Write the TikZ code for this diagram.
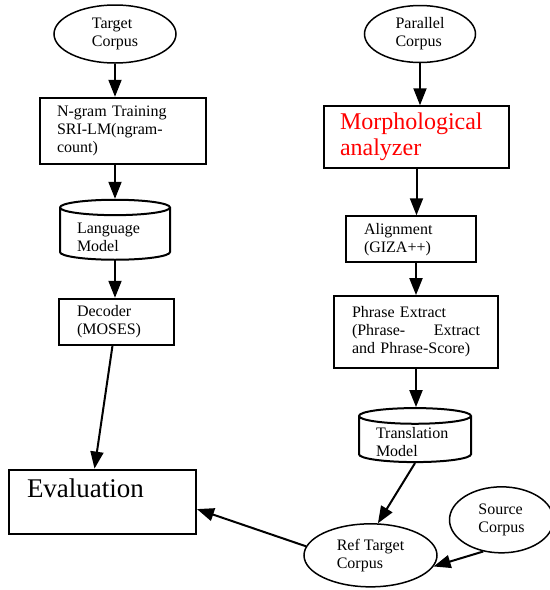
\documentclass[tikz,border=0pt]{standalone}
\usepackage{fontspec}
\setmainfont{Liberation Serif}
\usetikzlibrary{arrows.meta,positioning,shapes.geometric}

\begin{document}
\begin{tikzpicture}[
    >={Triangle[length=8.5pt,width=6.5pt]},
    node distance=17pt,
    line width=1pt,
    corpus/.style={ellipse,draw,line width=0.75pt,align=left,inner sep=0pt,font=\fontsize{8}{9}\selectfont},
    procbox/.style={rectangle,draw,align=left,font=\fontsize{8}{9}\selectfont},
    store/.style={cylinder,shape border rotate=90,aspect=0.14,inner ysep=1pt,draw,align=left,font=\fontsize{8}{9}\selectfont},
    flow/.style={->,line width=1pt}
]
    \useasboundingbox (0,0) rectangle (275pt,-295pt);

    % left column
    \node[corpus,minimum width=61pt,minimum height=29pt] (tc) at (57.5pt,-17pt) {Target\\Corpus};
    \node[procbox,text width=66pt,inner xsep=8.5pt,minimum height=33pt,below=16.5pt of tc,xshift=4pt] (ng) {N-gram Training\\SRI-LM(ngram-\\count)};
    \node[store,text width=38pt,inner xsep=8.5pt,minimum width=55pt,minimum height=30pt,below=17pt of ng,xshift=-4pt] (lm) {Language\\Model};
    \node[procbox,text width=39.5pt,inner xsep=9pt,minimum height=22.5pt,below=18.5pt of lm,xshift=0.75pt] (dec) {Decoder\\(MOSES)};
    \node[procbox,text width=75.5pt,inner xsep=9pt,minimum height=32pt,font=\fontsize{13.5}{16}\selectfont,text depth=13.5pt,below=61.5pt of dec,xshift=-7pt] (ev) {Evaluation};

    % right column
    \node[corpus,minimum width=55.5pt,minimum height=28.5pt,right=93.5pt of tc] (pc) {Parallel\\Corpus};
    \node[procbox,text width=76.5pt,inner xsep=8pt,minimum height=31pt,font=\fontsize{12}{13}\selectfont,text=red,below=21pt of pc,xshift=-1.75pt] (ma) {Morphological\\analyzer};
    \node[procbox,text width=47pt,inner xsep=9pt,minimum height=22.5pt,below=23pt of ma,xshift=-2.75pt] (al) {Alignment\\(GIZA++)};
    \node[procbox,text width=64pt,inner xsep=9pt,minimum height=36pt,below=16pt of al,xshift=2.5pt] (pe) {Phrase Extract\\(Phrase-\hfill Extract\\and Phrase-Score)};
    \node[store,text width=39pt,inner xsep=8.5pt,minimum width=56pt,minimum height=27pt,below=19pt of pe,xshift=-0.5pt] (tm) {Translation\\Model};
    \node[corpus,minimum width=66.5pt,minimum height=31.5pt,below=30pt of tm,xshift=-22.25pt] (rt) {Ref Target\\Corpus};
    \node[corpus,minimum width=52pt,minimum height=33pt,right=5.5pt of rt,yshift=17.75pt] (sc) {Source\\Corpus};

    \draw[flow] (tc.south) -- (tc.south |- ng.north);
    \draw[flow] (ng.south -| lm.north) -- (lm.north);
    \draw[flow] (lm.south) -- (lm.south |- dec.north);
    \draw[flow] ([xshift=-2pt]dec.south) -- ([xshift=-4pt]ev.north);

    \draw[flow] (pc.south) -- (pc.south |- ma.north);
    \draw[flow] (ma.south) -- (ma.south |- al.north);
    \draw[flow] (al.south -| pe.north) -- (pe.north);
    \draw[flow] (pe.south) -- (pe.south |- tm.north);
    \draw[flow] (tm.south) -- (rt.77);
    \draw[flow] (sc.240) -- (rt.-10);
    \draw[flow] (rt.172) -- ([yshift=-3.75pt]ev.east);
\end{tikzpicture}
\end{document}
